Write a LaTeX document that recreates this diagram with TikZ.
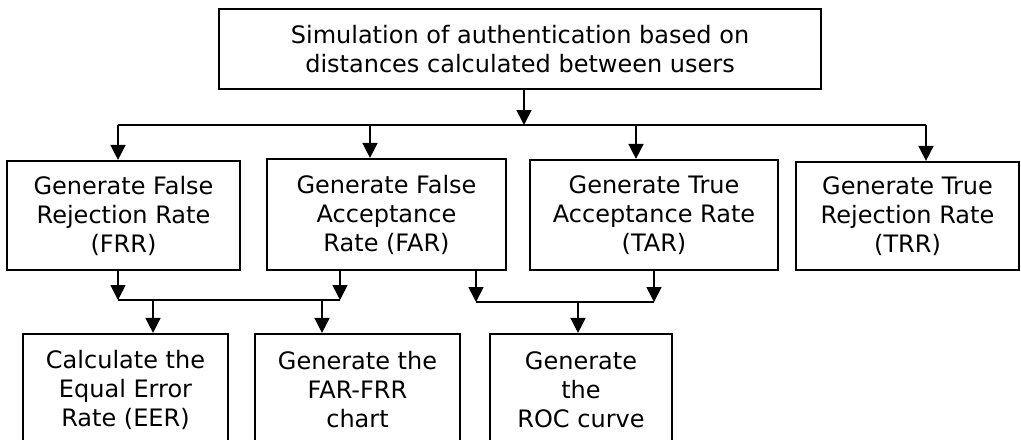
\documentclass[tikz,border=0pt]{standalone}
\usepackage{fontspec}
\setmainfont{DejaVu Sans}
\usetikzlibrary{arrows.meta}
\tikzset{
  box/.style={draw=black, line width=1.1pt, fill=white, inner sep=0pt,
    align=center, font=\fontsize{12pt}{14.5pt}\selectfont},
  link/.style={draw=black, line width=0.8pt},
  arr/.style={link, -{Triangle[length=7.5pt,width=7.5pt]}}
}
\begin{document}
\begin{tikzpicture}[x=0.5pt, y=-0.5pt]
  \useasboundingbox (0,0) rectangle (1021,439);
  \clip (0,0) rectangle (1021,439);

  % top process box
  \node[box, minimum width=301pt, minimum height=40pt] (sim) at (520,49)
    {Simulation of authentication based on\\distances calculated between users};

  % rate generation boxes
  \node[box, minimum width=116.5pt, minimum height=54.5pt] (frr) at (123.5,215.5)
    {Generate False\\Rejection Rate\\(FRR)};
  \node[box, minimum width=119.5pt, minimum height=55.5pt] (far) at (386.5,214.5)
    {Generate False\\Acceptance\\Rate (FAR)};
  \node[box, minimum width=124pt, minimum height=55pt] (tar) at (654,215)
    {Generate True\\Acceptance Rate\\(TAR)};
  \node[box, minimum width=111.5pt, minimum height=54pt] (trr) at (907.5,216)
    {Generate True\\Rejection Rate\\(TRR)};

  % result boxes
  \node[box, minimum width=102.5pt, minimum height=56pt] (eer) at (125.5,390)
    {Calculate the\\Equal Error\\Rate (EER)};
  \node[box, minimum width=102.5pt, minimum height=56pt] (chart) at (357.5,390)
    {Generate the\\FAR-FRR\\chart};
  \node[box, minimum width=91pt, minimum height=56pt] (roc) at (581,390)
    {Generate\\the\\ROC curve};

  % first distribution bus
  \coordinate (b0) at (524,125);
  \coordinate (b1) at (118,125);
  \coordinate (b2) at (370,125);
  \coordinate (b3) at (636,125);
  \coordinate (b4) at (926,125);
  \draw[arr] (sim.south -| b0) -- (b0);
  \draw[link] (b1) -- (b4);
  \draw[arr] (b1) -- (frr.north -| b1);
  \draw[arr] (b2) -- (far.north -| b2);
  \draw[arr] (b3) -- (tar.north -| b3);
  \draw[arr] (b4) -- (trr.north -| b4);

  % FRR + FAR merge
  \coordinate (m1) at (118,300);
  \coordinate (m2) at (340,300);
  \coordinate (m3) at (153,300);
  \coordinate (m4) at (322,300);
  \draw[arr] (frr.south -| m1) -- (m1);
  \draw[arr] (far.south -| m2) -- (m2);
  \draw[link] (m1) -- (m2);
  \draw[arr] (m3) -- (eer.north -| m3);
  \draw[arr] (m4) -- (chart.north -| m4);

  % FAR + TAR merge
  \coordinate (n1) at (476,302);
  \coordinate (n2) at (654,302);
  \coordinate (n3) at (578,302);
  \draw[arr] (far.south -| n1) -- (n1);
  \draw[arr] (tar.south -| n2) -- (n2);
  \draw[link] (n1) -- (n2);
  \draw[arr] (n3) -- (roc.north -| n3);
\end{tikzpicture}
\end{document}
